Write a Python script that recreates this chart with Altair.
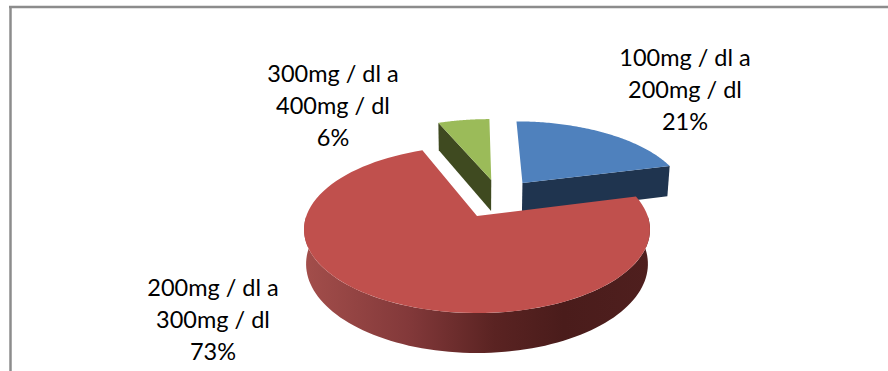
import math
import altair as alt

# Percent share of each glucose band, clockwise from twelve o'clock
categories = ["100mg / dl a 200mg / dl", "200mg / dl a 300mg / dl", "300mg / dl a 400mg / dl"]
label_lines = [["100mg / dl a", "200mg / dl"], ["200mg / dl a", "300mg / dl"], ["300mg / dl a", "400mg / dl"]]
values = [21, 73, 6]

W, H = 888, 371

# Tilted-disc camera: centre on screen, axis lengths, perspective strength, wall depth
CX, CY, AX, BY, K, DEPTH, FLOOR_X = 477, 216, 170.7, 81.3, 0.162, 33.5, 0.988
# Explosion offset of each slice, in disc radii
offsets = [(0.285, 0.434), (0.0, 0.0), (0.09, 0.477)]

TOP_COLORS = ["#4F81BD", "#C0504D", "#9BBB59"]
SIDE_COLORS = ["#1F344F", "#7A2F2D", "#3F4A20"]


def project(u, v, floor=False):
    w = 1 + K * v
    sx = FLOOR_X if floor else 1.0
    y = CY - BY * v / w
    if floor:
        y += DEPTH / w
    return [round(CX + AX * u * sx / w, 2), round(y, 2)]


def rim(i, a0, a1, floor=False, n=90):
    ou, ov = offsets[i]
    pts = []
    for s in range(n + 1):
        a = math.radians(a0 + (a1 - a0) * s / n)
        pts.append(project(ou + math.sin(a), ov + math.cos(a), floor))
    return pts


def feature(ring):
    return {"type": "Feature", "properties": {},
            "geometry": {"type": "Polygon", "coordinates": [ring + [ring[0]]]}}


# Slice angles derived from the shares
bounds = [0]
for v in values:
    bounds.append(bounds[-1] + v / sum(values) * 360)

tops, radial_walls = [], []
for i in range(3):
    a0, a1 = bounds[i], bounds[i + 1]
    apex = project(*offsets[i])
    tops.append(feature([apex] + rim(i, a0, a1)))
    edge_angle = a1 if i == 0 else a0
    end_top = rim(i, edge_angle, edge_angle, n=1)[0]
    end_floor = rim(i, edge_angle, edge_angle, floor=True, n=1)[0]
    radial_walls.append(feature([apex, end_top, end_floor, project(*offsets[i], floor=True)]))

# Curved outer wall of the large slice, visible along the front half of the disc
red_wall = feature(rim(1, 90, 270) + rim(1, 270, 90, floor=True))

projection = alt.Projection(type="identity", scale=1, translate=[0, 0])


def shape(feat, **mark):
    return alt.Chart(alt.Data(values=[feat])).mark_geoshape(
        strokeWidth=0, **mark).project(**projection.to_dict())


wall_gradient = alt.Gradient(
    gradient="linear", x1=0, y1=0, x2=1, y2=0,
    stops=[
        alt.GradientStop(offset=0.0, color="#A34E4B"),
        alt.GradientStop(offset=0.3, color="#83393A"),
        alt.GradientStop(offset=0.55, color="#5A2322"),
        alt.GradientStop(offset=0.75, color="#4A1C1B"),
        alt.GradientStop(offset=1.0, color="#4F1F1E"),
    ],
)

layers = [
    # Chart frame: top and left edges
    alt.Chart(alt.Data(values=[{}])).mark_rule(color="#8C8C8C", strokeWidth=2.5).encode(
        x=alt.value(9), x2=alt.value(W), y=alt.value(7)),
    alt.Chart(alt.Data(values=[{}])).mark_rule(color="#8C8C8C", strokeWidth=2.5).encode(
        x=alt.value(10.5), y=alt.value(6), y2=alt.value(H)),
    # Back slices first, then the large slice in front of them
    shape(radial_walls[0], fill=SIDE_COLORS[0]),
    shape(tops[0], fill=TOP_COLORS[0]),
    shape(radial_walls[2], fill=SIDE_COLORS[2]),
    shape(tops[2], fill=TOP_COLORS[2]),
    shape(red_wall, fill=wall_gradient),
    shape(tops[1], fill=TOP_COLORS[1]),
]

# Data labels: band name on two lines, share on the third
label_anchor = [(685, 59), (213, 289), (333, 74.5)]
for i, (ax, ay) in enumerate(label_anchor):
    text = "\n".join(label_lines[i] + [f"{values[i]}%"])
    layers.append(
        alt.Chart(alt.Data(values=[{"category": categories[i], "label": text}]))
        .mark_text(font="Lato", fontSize=23.5, color="#000000", align="center",
                   baseline="middle", lineBreak="\n", lineHeight=32)
        .encode(x=alt.value(ax), y=alt.value(ay), text="label:N")
    )

chart = alt.layer(*layers).properties(
    width=W, height=H, padding=0, autosize=alt.AutoSizeParams(type="none"),
    background="#FFFFFF",
).configure_view(stroke=None)

chart.save("out.html", embed_options={"renderer": "svg", "actions": False})
